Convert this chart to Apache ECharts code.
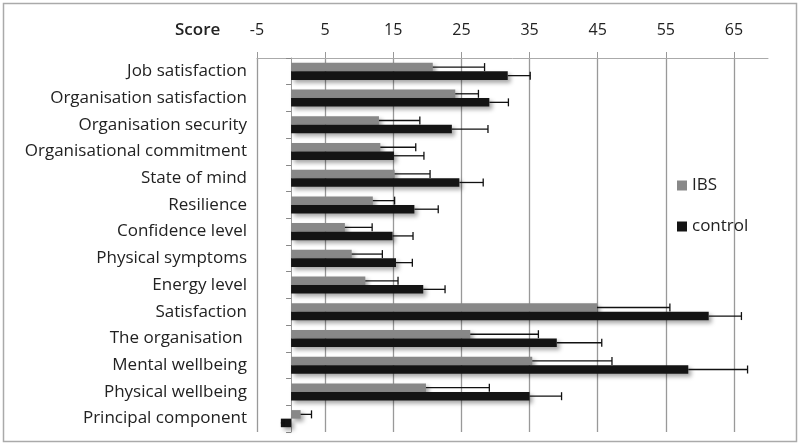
<!DOCTYPE html>
<html>
<head>
<meta charset="utf-8">
<script src="https://cdn.jsdelivr.net/npm/echarts@6/dist/echarts.min.js"></script>
<style>
  html, body { margin: 0; padding: 0; background: #fff; }
  #chart { width: 800px; height: 445px; }
</style>
</head>
<body>
<div id="chart"></div>
<script>
const categories = [
  'Job satisfaction', 'Organisation satisfaction', 'Organisation security',
  'Organisational commitment', 'State of mind', 'Resilience', 'Confidence level',
  'Physical symptoms', 'Energy level', 'Satisfaction', 'The organisation ',
  'Mental wellbeing', 'Physical wellbeing', 'Principal component'
]
const ibs = [20.8, 24.1, 12.9, 13.1, 15.2, 12.0, 7.9, 8.9, 10.9, 44.9, 26.3, 35.4, 19.8, 1.4]
const ibsErr = [7.6, 3.4, 6.0, 5.2, 5.2, 3.2, 4.0, 4.5, 4.8, 10.7, 10.0, 11.7, 9.3, 1.6]
const control = [31.8, 29.1, 23.6, 15.1, 24.7, 18.1, 14.9, 15.4, 19.4, 61.3, 39.0, 58.3, 35.0, -1.5]
const controlErr = [3.3, 2.8, 5.3, 4.4, 3.5, 3.5, 3.0, 2.4, 3.2, 4.8, 6.6, 8.7, 4.7, 0.5]

const font = 'Open Sans'
const chart = echarts.init(document.getElementById('chart'))

// error bar drawn from the bar end to value + err, with a cap
function errorBar(sign) {
  return function (params, api) {
    const cat = api.value(0)
    const v = api.value(1)
    const e = api.value(2)
    const band = api.size([0, 1])[1]
    const off = sign * band * 0.16
    const p0 = api.coord([v, cat])
    const p1 = api.coord([v + e, cat])
    const y = p0[1] + off
    const st = { stroke: '#111', lineWidth: 1.3 }
    return {
      type: 'group',
      children: [
        { type: 'line', shape: { x1: p0[0], y1: y, x2: p1[0], y2: y }, style: st },
        { type: 'line', shape: { x1: p1[0], y1: y - 4, x2: p1[0], y2: y + 4 }, style: st }
      ]
    }
  }
}

const shadow = {
  shadowBlur: 4,
  shadowOffsetX: 3,
  shadowOffsetY: 3,
  shadowColor: 'rgba(0,0,0,0.35)'
}

chart.setOption({
  animation: false,
  title: {
    text: 'Score',
    left: 170,
    top: 17,
    textStyle: { fontFamily: font, fontSize: 17, fontWeight: 600, color: '#222' }
  },
  legend: {
    data: ['IBS', 'control'],
    orient: 'vertical',
    left: 672,
    top: 172,
    itemWidth: 10,
    itemHeight: 10,
    itemGap: 24,
    icon: 'rect',
    textStyle: { fontFamily: font, fontSize: 17, color: '#222' }
  },
  grid: { left: 257, right: 32, top: 58, bottom: 13 },
  xAxis: {
    type: 'value',
    position: 'top',
    min: -5,
    max: 70,
    interval: 10,
    axisLine: { show: true, lineStyle: { color: '#aaa' } },
    axisTick: { show: true, length: 6, lineStyle: { color: '#999' } },
    axisLabel: {
      margin: 20,
      showMaxLabel: false,
      fontFamily: font,
      fontSize: 16,
      color: '#222'
    },
    splitLine: {
      show: true,
      lineStyle: {
        width: 1.3,
        color: ['#999', '#999', '#999', '#999', '#999', '#999', '#999', '#999', 'rgba(0,0,0,0)']
      }
    }
  },
  yAxis: {
    type: 'category',
    inverse: true,
    data: categories,
    axisLine: { show: true, onZero: true, lineStyle: { color: '#999' } },
    axisTick: { show: true, length: 5, lineStyle: { color: '#888' } },
    axisLabel: {
      margin: 10,
      fontFamily: font,
      fontSize: 17,
      color: '#222'
    }
  },
  series: [
    {
      name: 'IBS',
      type: 'bar',
      data: ibs,
      barGap: '0%',
      barCategoryGap: '36%',
      itemStyle: Object.assign({ color: '#888888' }, shadow)
    },
    {
      name: 'control',
      type: 'bar',
      data: control,
      itemStyle: Object.assign({ color: '#141414' }, shadow)
    },
    {
      name: 'IBS err',
      type: 'custom',
      z: 5,
      renderItem: errorBar(-1),
      encode: { y: 0, x: 1 },
      data: categories.map((c, i) => [i, ibs[i], ibsErr[i]])
    },
    {
      name: 'control err',
      type: 'custom',
      z: 5,
      renderItem: errorBar(1),
      encode: { y: 0, x: 1 },
      data: categories.map((c, i) => [i, control[i], controlErr[i]])
    }
  ],
  graphic: [{
    type: 'rect',
    shape: { x: 3.5, y: 3.5, width: 793, height: 438 },
    style: { fill: 'none', stroke: '#aaa', lineWidth: 1.5 },
    silent: true
  }]
})
</script>
</body>
</html>
